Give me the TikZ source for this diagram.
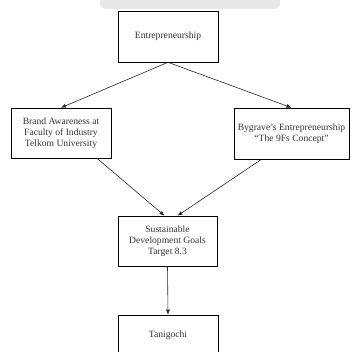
\documentclass[tikz,border=0pt]{standalone}
\usepackage{fontspec}
\setmainfont{Liberation Serif}
\usetikzlibrary{arrows.meta,shadows}
\tikzset{
  blok/.style={draw=black,line width=.6pt,fill=white,align=center,
    text=black!80,font=\fontsize{9.6}{11}\selectfont,inner sep=2pt,
    drop shadow={shadow xshift=.4pt,shadow yshift=-1.4pt,fill=black!35,opacity=.5}},
  panah/.style={draw=black!85,line width=.6pt,-{Latex[length=5pt,width=4pt]}}
}
\begin{document}
\begin{tikzpicture}[x=1pt,y=1pt]
\useasboundingbox (0,0) rectangle (356,351);
\clip (0,0) rectangle (356,351);
\fill[gray!18,rounded corners=6pt] (100,342) rectangle (280,362);
%%%%
\node[blok,minimum width=100pt,minimum height=51pt] (entre) at (168,314.5) {Entrepreneurship};
\node[blok,minimum width=100pt,minimum height=50pt] (brand) at (61,218) {Brand Awareness at\\Faculty of Industry\\Telkom University};
\node[blok,minimum width=115pt,minimum height=51pt] (bygrave) at (291.5,217.5) {Bygrave's Entrepreneurship\\``The 9Fs Concept''};
\node[blok,minimum width=99pt,minimum height=50pt] (sdg) at (167.5,110) {Sustainable\\Development Goals\\Target 8.3};
\node[blok,minimum width=100pt,minimum height=40pt] (tani) at (168,16) {Tanigochi};
%%%%
\draw[panah] (entre.south) -- (brand.north);
\draw[panah] (entre.south) -- (bygrave.north);
\draw[panah] ([xshift=36pt]brand.south) -- ([xshift=-3pt]sdg.north);
\draw[panah] ([xshift=-30pt]bygrave.south) -- ([xshift=10pt]sdg.north);
\draw[panah] (sdg.south) -- (tani.north);
\end{tikzpicture}
\end{document}
